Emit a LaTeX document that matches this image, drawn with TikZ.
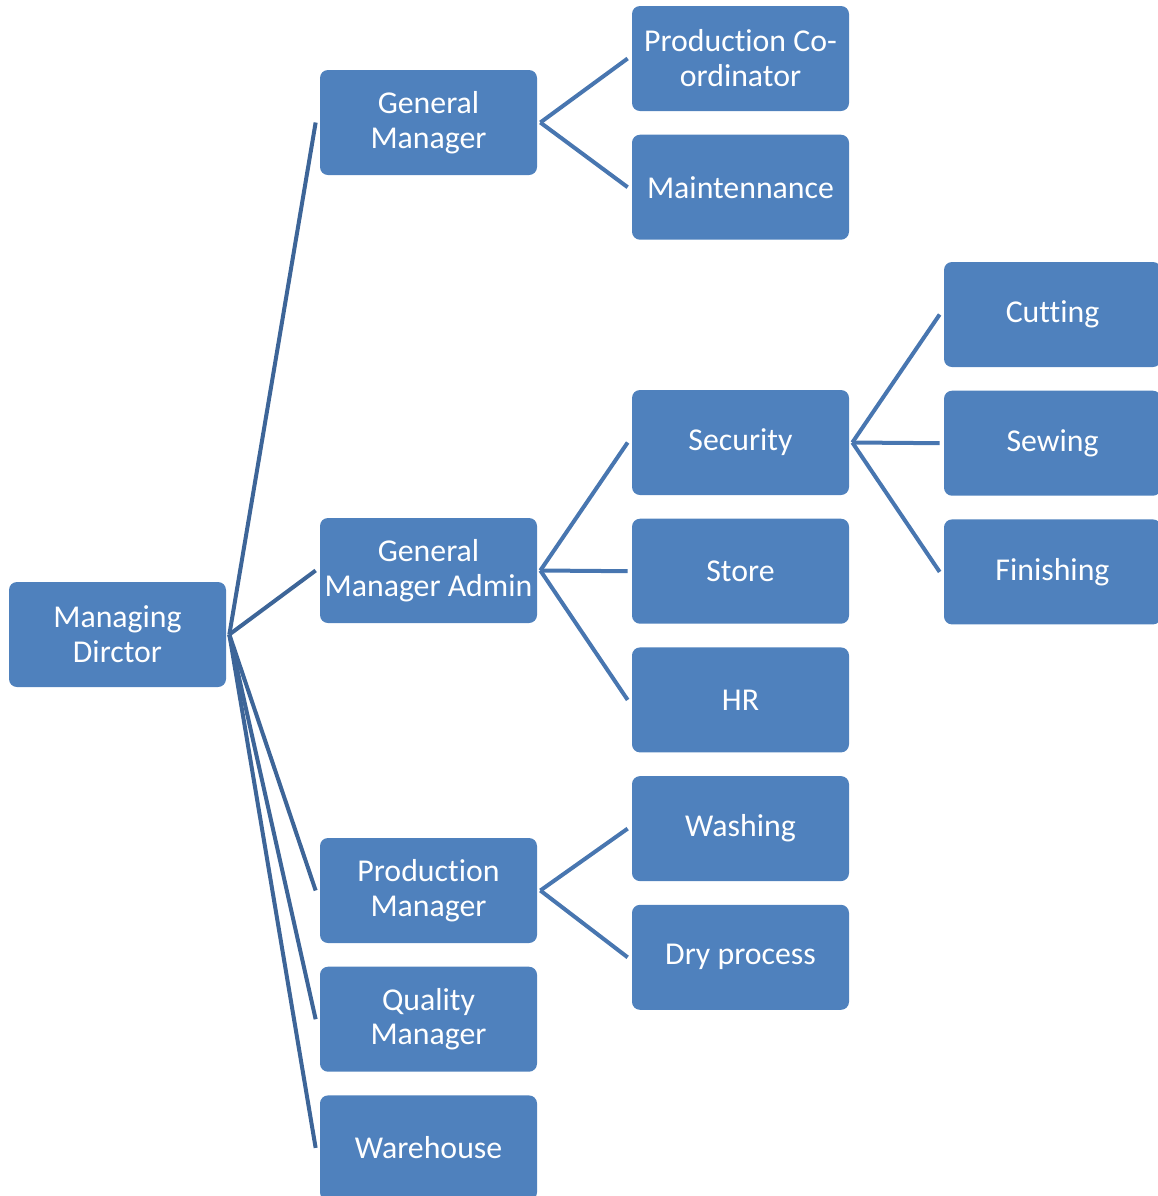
\documentclass[tikz,border=0pt]{standalone}
\usepackage{fontspec}
\setmainfont{Carlito}[Ligatures=NoCommon]
\usepackage{tikz}
\usetikzlibrary{positioning}

\definecolor{boxblue}{HTML}{4F81BD}
\definecolor{linkdark}{HTML}{3D6598}
\definecolor{linkblue}{HTML}{4876B0}

\begin{document}
\begin{tikzpicture}[node distance=0.46cm,
	unit box/.style={rectangle,rounded corners=0.16cm,fill=boxblue,text=white,
		minimum width=4.34cm,minimum height=2.1cm,inner sep=0pt,align=center,
		font=\fontsize{18.1}{19.85}\selectfont},
	link/.style={draw=linkblue,line width=0.08cm},
	top link/.style={link,draw=linkdark}]
	
	\useasboundingbox (0,0) rectangle (23.14,-23.92);
	
	\node[unit box] (md) at (2.35,-12.69) {Managing\\Dirctor};
	
	\node[unit box] (gm) at (8.57,-2.45) {General\\Manager};
	\node[unit box] (gma) at (8.57,-11.41) {General\\Manager Admin};
	\node[unit box] (pm) at (8.57,-17.81) {Production\\Manager};
	\node[unit box] (qm) [below=of pm] {Quality\\Manager};
	\node[unit box] (wh) [below=of qm] {Warehouse};
	
	\node[unit box] (pco) at (14.81,-1.17) {Production Co-\\ordinator};
	\node[unit box] (maint) [below=of pco] {Maintennance};
	\node[unit box] (sec) at (14.81,-8.85) {Security};
	\node[unit box] (store) [below=of sec] {Store};
	\node[unit box] (hr) [below=of store] {HR};
	\node[unit box] (wash) [below=of hr] {Washing};
	\node[unit box] (dry) [below=of wash] {Dry process};
	
	\node[unit box] (cut) at (21.05,-6.29) {Cutting};
	\node[unit box] (sew) [below=of cut] {Sewing};
	\node[unit box] (fin) [below=of sew] {Finishing};
	
	\foreach \c in {gm,gma,pm,qm,wh}
	\draw[top link] ([xshift=0.06cm]md.east) -- ([xshift=-0.08cm]\c.west);
	
	\foreach \p/\c in {gm/pco,gm/maint,gma/sec,gma/store,gma/hr,pm/wash,pm/dry,
		sec/cut,sec/sew,sec/fin}
	\draw[link] ([xshift=0.06cm]\p.east) -- ([xshift=-0.08cm]\c.west);
\end{tikzpicture}
\end{document}
